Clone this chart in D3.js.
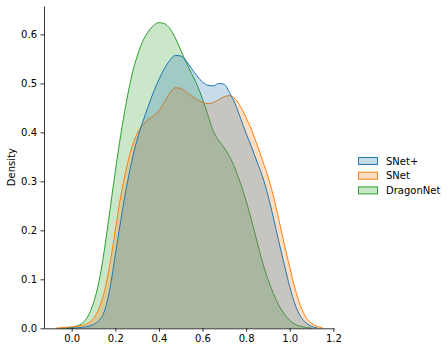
<!DOCTYPE html>
<html>
<head>
<meta charset="utf-8">
<script src="https://cdn.jsdelivr.net/npm/d3@7"></script>
<style>
  body { margin: 0; background: #fff; }
  svg { display: block; font-family: "DejaVu Sans", sans-serif; }
</style>
</head>
<body>
<svg id="chart" width="448" height="352"></svg>
<script>
// kde grid (x) and density values, null = outside support
const xs = [-0.100, -0.075, -0.050, -0.025, 0.000, 0.025, 0.050, 0.075, 0.100, 0.125,
  0.150, 0.175, 0.200, 0.225, 0.250, 0.275, 0.300, 0.325, 0.350, 0.375,
  0.400, 0.425, 0.450, 0.475, 0.500, 0.525, 0.550, 0.575, 0.600, 0.625,
  0.650, 0.675, 0.700, 0.725, 0.750, 0.775, 0.800, 0.825, 0.850, 0.875,
  0.900, 0.925, 0.950, 0.975, 1.000, 1.025, 1.050, 1.075, 1.100, 1.125,
  1.150, 1.175];

const snetPlus = [null, null, null, 0.0002, 0.0005, 0.001, 0.002, 0.004, 0.008, 0.016,
  0.035, 0.08, 0.15, 0.22, 0.285, 0.34, 0.385, 0.42, 0.452, 0.482,
  0.508, 0.53, 0.547, 0.557, 0.556, 0.546, 0.53, 0.515, 0.503, 0.496,
  0.495, 0.5, 0.498, 0.48, 0.458, 0.428, 0.398, 0.37, 0.34, 0.31,
  0.272, 0.226, 0.177, 0.13, 0.085, 0.048, 0.024, 0.011, 0.004, 0.001,
  null, null];

const snet = [null, 0.0003, 0.001, 0.002, 0.003, 0.004, 0.006, 0.01, 0.02, 0.04,
  0.075, 0.13, 0.2, 0.27, 0.325, 0.368, 0.398, 0.415, 0.426, 0.434,
  0.444, 0.462, 0.48, 0.491, 0.49, 0.482, 0.474, 0.467, 0.461, 0.459,
  0.461, 0.467, 0.473, 0.475, 0.468, 0.452, 0.43, 0.405, 0.375, 0.343,
  0.31, 0.27, 0.222, 0.172, 0.125, 0.08, 0.045, 0.022, 0.01, 0.004,
  0.001, null];

const dragonNet = [null, null, 0.0003, 0.001, 0.002, 0.005, 0.011, 0.025, 0.052, 0.095,
  0.16, 0.24, 0.32, 0.395, 0.46, 0.515, 0.555, 0.585, 0.605, 0.618,
  0.624, 0.622, 0.612, 0.593, 0.568, 0.543, 0.52, 0.497, 0.468, 0.435,
  0.402, 0.383, 0.368, 0.35, 0.325, 0.295, 0.26, 0.22, 0.177, 0.135,
  0.1, 0.071, 0.047, 0.029, 0.016, 0.008, 0.004, 0.0015, 0.0005, null,
  null, null];

const seriesNames = ["SNet+", "SNet", "DragonNet"];
const seriesValues = [snetPlus, snet, dragonNet];
const colors = ["#1f77b4", "#ff7f0e", "#2ca02c"];
const xTicks = [0.0, 0.2, 0.4, 0.6, 0.8, 1.0, 1.2];
const yTicks = [0.0, 0.1, 0.2, 0.3, 0.4, 0.5, 0.6];

const svg = d3.select("#chart");

const x = d3.scaleLinear().domain([-0.127, 1.203]).range([44, 334]);
const y = d3.scaleLinear().domain([0, 0.658]).range([328.3, 6]);

const area = d3.area()
  .defined(d => d[1] !== null)
  .x(d => x(d[0]))
  .y0(y(0))
  .y1(d => y(d[1]))
  .curve(d3.curveMonotoneX);

const line = d3.line()
  .defined(d => d[1] !== null)
  .x(d => x(d[0]))
  .y(d => y(d[1]))
  .curve(d3.curveMonotoneX);

// seaborn draws the hue levels in reverse order
for (let i = seriesNames.length - 1; i >= 0; i--) {
  const pts = xs.map((v, j) => [v, seriesValues[i][j]]);
  svg.append("path")
    .datum(pts)
    .attr("d", area)
    .attr("fill", colors[i])
    .attr("fill-opacity", 0.25);
  svg.append("path")
    .datum(pts)
    .attr("d", line)
    .attr("fill", "none")
    .attr("stroke", colors[i])
    .attr("stroke-width", 1);
}

// axes
const xAxis = svg.append("g")
  .attr("transform", `translate(0,${y(0)})`)
  .call(d3.axisBottom(x).tickValues(xTicks).tickFormat(d3.format(".1f")).tickSizeInner(3.5).tickSizeOuter(0).tickPadding(3.5));
const yAxis = svg.append("g")
  .attr("transform", `translate(${x.range()[0]},0)`)
  .call(d3.axisLeft(y).tickValues(yTicks).tickFormat(d3.format(".1f")).tickSizeInner(3.5).tickSizeOuter(0).tickPadding(3.5));

[xAxis, yAxis].forEach(g => {
  g.selectAll("text").attr("font-size", 10).attr("fill", "#000").attr("font-family", "DejaVu Sans");
  g.selectAll("line").attr("stroke", "#000").attr("stroke-width", 0.8);
  g.select(".domain").attr("stroke", "#000").attr("stroke-width", 0.8);
});

svg.append("text")
  .attr("transform", `translate(15,${(y.range()[0] + y.range()[1]) / 2}) rotate(-90)`)
  .attr("text-anchor", "middle")
  .attr("font-size", 10)
  .text("Density");

// legend
const legend = svg.append("g").attr("transform", "translate(358,161)");
seriesNames.forEach((name, i) => {
  const row = legend.append("g").attr("transform", `translate(0,${i * 14.7})`);
  row.append("rect")
    .attr("x", 0.5).attr("y", -3.5)
    .attr("width", 19).attr("height", 7)
    .attr("fill", colors[i]).attr("fill-opacity", 0.25)
    .attr("stroke", colors[i]).attr("stroke-width", 1);
  row.append("text")
    .attr("x", 28).attr("y", 3.6)
    .attr("font-size", 10)
    .text(name);
});
</script>
</body>
</html>
